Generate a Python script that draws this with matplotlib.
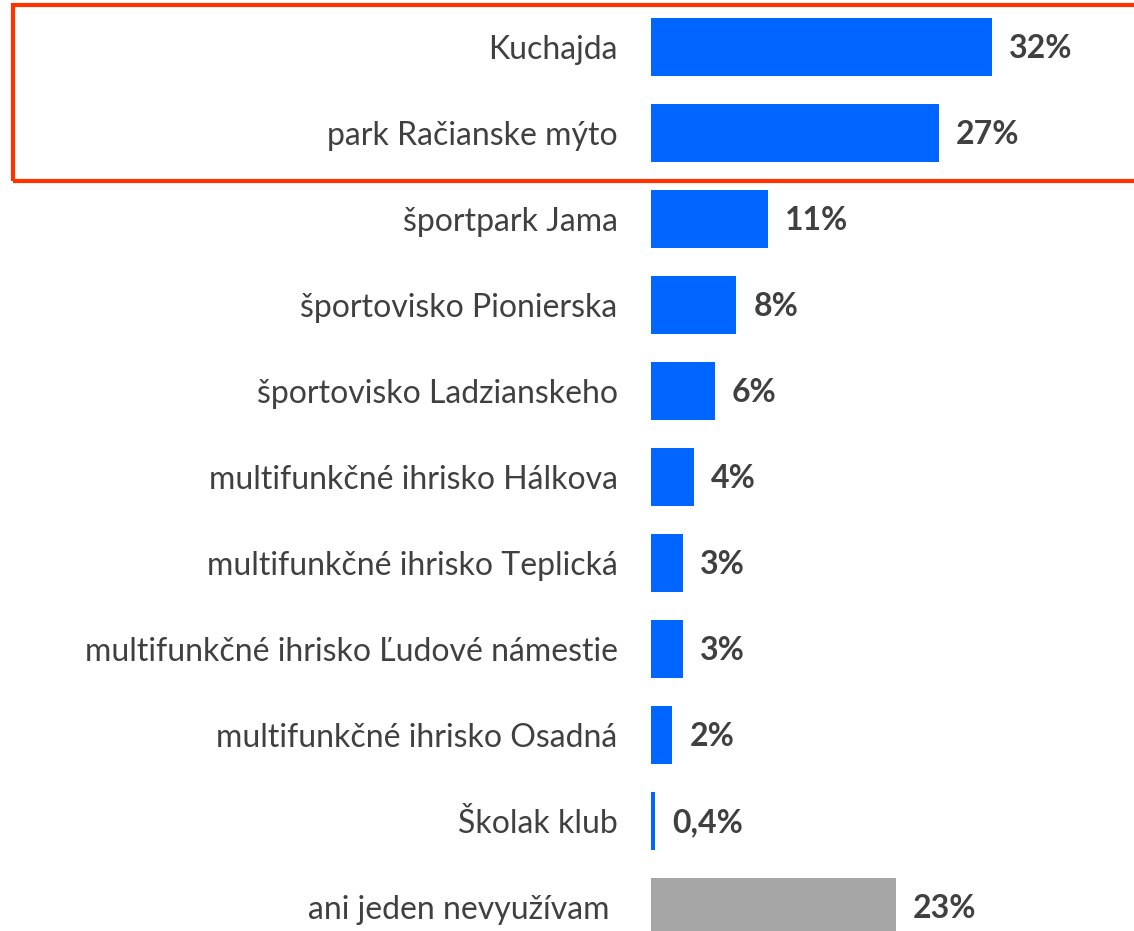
import matplotlib.pyplot as plt
from matplotlib.patches import Rectangle

plt.rcParams['font.family'] = ['Lato', 'DejaVu Sans']

labels = ['Kuchajda', 'park Račianske mýto', 'športpark Jama', 'športovisko Pionierska',
          'športovisko Ladzianskeho', 'multifunkčné ihrisko Hálkova',
          'multifunkčné ihrisko Teplická', 'multifunkčné ihrisko Ľudové námestie',
          'multifunkčné ihrisko Osadná', 'Školak klub', 'ani jeden nevyužívam ']
values = [32, 27, 11, 8, 6, 4, 3, 3, 2, 0.4, 23]
value_text = ['32%', '27%', '11%', '8%', '6%', '4%', '3%', '3%', '2%', '0,4%', '23%']
colors = ['#0066FF'] * 10 + ['#A6A6A6']

fig = plt.figure(figsize=(11.34, 9.31), dpi=100)
ax = fig.add_axes([651 / 1134, 0, 483 / 1134, 1])

ypos = list(range(len(labels)))
ax.barh(ypos, values, height=0.663, color=colors)
ax.set_xlim(0, 483 / 10.66)
ax.set_ylim(10 + 24 / 86, -47 / 86)

for y, v, t in zip(ypos, values, value_text):
    ax.text(v + 1.6, y + 0.02, t, va='center', ha='left', fontsize=23,
            fontweight='bold', color='#404040')

ax.set_yticks(ypos)
ax.set_yticklabels(labels, fontsize=23, color='#404040')
ax.tick_params(axis='y', length=0, pad=24)
ax.set_xticks([])
for s in ax.spines.values():
    s.set_visible(False)

# highlight box around the top two rows
fig.patches.append(Rectangle((13 / 1134, 1 - 181 / 931), 1.2, 176 / 931,
                             transform=fig.transFigure, fill=False,
                             edgecolor='#FF3300', linewidth=3))

fig.savefig('out.png', dpi=100)
